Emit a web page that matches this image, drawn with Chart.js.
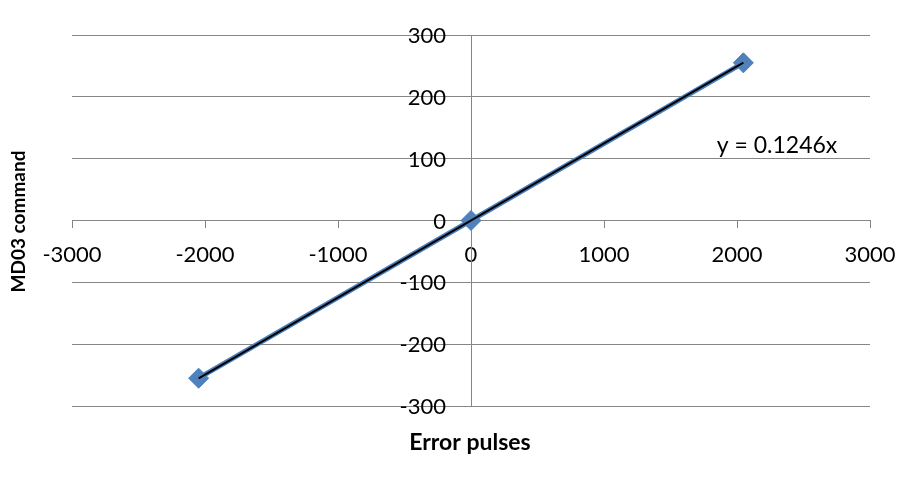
<!DOCTYPE html>
<html>
<head>
<meta charset="utf-8">
<script src="https://cdn.jsdelivr.net/npm/chart.js@4"></script>
<style>
    body { margin: 0; background: #fff; }
    #wrap { width: 918px; height: 483px; }
</style>
</head>
<body>
<div id="wrap"><canvas id="myChart"></canvas></div>
<script>
// values
const errorPulses = [-2048, 0, 2048];
const md03Command = [-255, 0, 255];
const trendX = [-2048, 2048];
const trendY = [-255.2, 255.2];
const xTicks = [-3000, -2000, -1000, 0, 1000, 2000, 3000];
const yTicks = [-300, -200, -100, 0, 100, 200, 300];
const trendLabel = "y = 0.1246x";
const xTitle = "Error pulses";
const yTitle = "MD03 command";

const fontFamily = "Lato, 'Open Sans', sans-serif";

function toPoints(xs, ys) {
    return xs.map((x, i) => ({x: x, y: ys[i]}));
}

// y tick labels, axis titles and trendline label
const textPlugin = {
    id: "texts",
    afterDraw(chart) {
        const ctx = chart.ctx;
        const area = chart.chartArea;
        const xs = chart.scales.x;
        const ys = chart.scales.y;
        ctx.save();
        ctx.fillStyle = "black";
        ctx.textBaseline = "middle";

        // y labels sit left of the centred axis
        ctx.font = "22px " + fontFamily;
        ctx.textAlign = "right";
        const axisX = xs.getPixelForValue(0);
        yTicks.forEach(v => {
            ctx.fillText(String(v), axisX - 25, ys.getPixelForValue(v) + 1);
        });

        ctx.textAlign = "center";
        ctx.font = "bold 23px " + fontFamily;
        ctx.fillText(xTitle, (area.left + area.right) / 2 - 1, 443);

        ctx.save();
        ctx.font = "bold 19px " + fontFamily;
        ctx.translate(19, ys.getPixelForValue(0) + 1);
        ctx.rotate(-Math.PI / 2);
        ctx.fillText(yTitle, 0, 0);
        ctx.restore();

        ctx.font = "23px " + fontFamily;
        ctx.fillText(trendLabel, 777, 146);
        ctx.restore();
    }
};

const ctx = document.getElementById("myChart");

const myChart = new Chart(ctx, {
    type: "scatter",
    data: {
        datasets: [
            {
                label: "Linear trend",
                data: toPoints(trendX, trendY),
                showLine: true,
                borderColor: "black",
                borderWidth: 2,
                pointRadius: 0,
            },
            {
                label: "MD03 command",
                data: toPoints(errorPulses, md03Command),
                showLine: true,
                borderColor: "#4a7ebb",
                borderWidth: 5,
                backgroundColor: "#4f81bd",
                pointBackgroundColor: "#4f81bd",
                pointBorderColor: "#4a7ebb",
                pointStyle: "rectRot",
                pointRadius: 10,
                pointBorderWidth: 1,
            },
        ],
    },
    options: {
        responsive: true,
        maintainAspectRatio: false,
        animation: false,
        layout: {
            padding: {left: 72, right: 48, top: 35, bottom: 77}
        },
        plugins: {
            legend: {display: false},
            tooltip: {enabled: false},
        },
        scales: {
            x: {
                type: "linear",
                position: {y: 0},
                min: -3000,
                max: 3000,
                afterBuildTicks: function (scale) {
                    scale.ticks = xTicks.map(v => ({value: v}));
                },
                grid: {
                    drawOnChartArea: false,
                    drawTicks: true,
                    tickLength: 7,
                    color: "#868686",
                },
                border: {color: "#868686", width: 1},
                ticks: {
                    color: "black",
                    padding: 14,
                    maxRotation: 0,
                    font: {family: fontFamily, size: 22},
                    callback: function (value) {
                        return String(value);
                    }
                },
            },
            y: {
                type: "linear",
                position: {x: 0},
                min: -300,
                max: 300,
                afterBuildTicks: function (scale) {
                    scale.ticks = yTicks.map(v => ({value: v}));
                },
                grid: {
                    drawOnChartArea: true,
                    drawTicks: true,
                    tickLength: 5,
                    color: "#868686",
                },
                border: {color: "#868686", width: 1},
                ticks: {
                    display: false,
                },
            },
        },
    },
    plugins: [textPlugin],
});
</script>
</body>
</html>
